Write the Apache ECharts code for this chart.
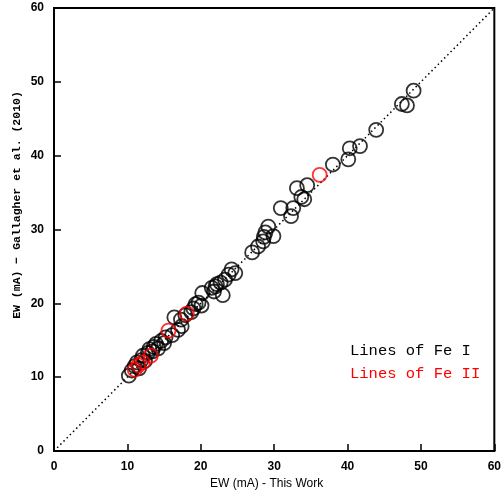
<!DOCTYPE html>
<html>
<head>
<meta charset="utf-8">
<script src="https://cdn.jsdelivr.net/npm/echarts@6/dist/echarts.min.js"></script>
<style>
  html, body { margin: 0; padding: 0; background: #fff; }
  #chart { width: 504px; height: 495px; }
</style>
</head>
<body>
<div id="chart"></div>
<script>
// Equivalent widths of Fe I lines: [this work, Gallagher et al. (2010)] in mA
const feI = [
  [10.2, 10.2], [10.6, 10.9], [11.0, 11.5], [11.3, 12.0], [11.6, 11.2], [11.9, 12.3],
  [12.1, 12.9], [12.4, 12.2], [12.8, 13.3], [13.0, 13.8], [13.4, 13.5], [13.6, 14.1],
  [13.9, 14.5], [14.2, 13.9], [14.6, 14.9], [15.0, 14.6], [15.2, 15.4], [16.1, 15.7],
  [16.4, 18.1], [16.9, 16.4], [17.4, 16.9], [17.3, 17.8], [17.9, 18.4], [18.7, 18.8],
  [19.0, 19.3], [19.3, 19.9], [19.7, 20.1], [20.2, 21.4], [20.1, 19.7], [21.5, 22.1],
  [21.8, 21.6], [22.0, 22.3], [22.2, 22.6], [22.7, 22.8], [23.0, 21.1], [23.3, 23.2],
  [23.8, 23.9], [24.2, 24.6], [24.7, 24.1], [27.0, 26.9], [27.8, 27.7], [28.5, 28.4],
  [28.6, 29.0], [28.8, 29.6], [29.2, 30.4], [29.9, 29.1], [30.9, 32.9], [32.3, 31.8],
  [32.6, 32.9], [33.1, 35.6], [33.7, 34.4], [34.1, 34.1], [34.5, 36.0], [38.0, 38.8],
  [40.1, 39.5], [40.3, 41.0], [41.7, 41.3], [43.9, 43.5], [47.4, 47.0], [48.1, 46.8],
  [49.0, 48.8]
];
// Equivalent widths of Fe II lines
const feII = [
  [11.0, 11.0], [11.5, 11.6], [12.1, 12.0], [13.2, 12.9], [15.6, 16.3], [18.1, 18.6],
  [36.2, 37.4]
];
// One-to-one reference line
const oneToOne = [[0, 0], [60, 60]];
const axisRange = [0, 60];
const tickStep = 10;

const chart = echarts.init(document.getElementById('chart'), null, { renderer: 'canvas' });

const tickLabelStyle = {
  color: '#000', fontFamily: 'Liberation Sans, Arial, sans-serif',
  fontWeight: 'bold', fontSize: 12
};

chart.setOption({
  animation: false,
  backgroundColor: '#fff',
  grid: {
    left: 54, right: 6, top: 8, bottom: 43,
    show: true, borderColor: '#000', borderWidth: 2, backgroundColor: 'transparent'
  },
  xAxis: {
    type: 'value', min: axisRange[0], max: axisRange[1], interval: tickStep,
    name: 'EW (mA) - This Work', nameLocation: 'middle', nameGap: 27,
    nameTextStyle: {
      color: '#000', fontFamily: 'Liberation Sans, Arial, sans-serif', fontSize: 12,
      padding: [0, 15, 0, 0]
    },
    axisLine: { show: true, lineStyle: { color: '#000', width: 2 } },
    axisTick: { show: true, inside: true, length: 7, lineStyle: { color: '#000', width: 1.5 } },
    axisLabel: Object.assign({ margin: 10 }, tickLabelStyle),
    splitLine: { show: false }
  },
  yAxis: {
    type: 'value', min: axisRange[0], max: axisRange[1], interval: tickStep,
    axisLine: { show: true, lineStyle: { color: '#000', width: 2 } },
    axisTick: { show: true, inside: true, length: 7, lineStyle: { color: '#000', width: 1.5 } },
    axisLabel: Object.assign({ margin: 10 }, tickLabelStyle),
    splitLine: { show: false }
  },
  graphic: [
    {
      // vertical axis title
      type: 'text', x: 17, y: 205, rotation: Math.PI / 2,
      style: {
        text: 'EW (mA) \u2212 Gallagher et al. (2010)', fill: '#000',
        font: 'bold 11.5px "Liberation Mono", monospace',
        textAlign: 'center', textVerticalAlign: 'middle'
      }
    },
    {
      type: 'text', left: 350, top: 343,
      style: { text: 'Lines of Fe I', fill: '#000', font: '15.5px "Liberation Mono", monospace' }
    },
    {
      type: 'text', left: 350, top: 366,
      style: { text: 'Lines of Fe II', fill: '#ff0000', font: '15.5px "Liberation Mono", monospace' }
    }
  ],
  series: [
    {
      type: 'line', data: oneToOne, symbol: 'none', silent: true,
      lineStyle: { color: '#000', width: 1.5, type: [1.5, 3] }, z: 1
    },
    {
      name: 'Fe I', type: 'scatter', data: feI, symbol: 'circle', symbolSize: 14,
      itemStyle: { color: 'transparent', borderColor: '#000', borderWidth: 1.8 }, z: 2
    },
    {
      name: 'Fe II', type: 'scatter', data: feII, symbol: 'circle', symbolSize: 14,
      itemStyle: { color: 'transparent', borderColor: '#ff0000', borderWidth: 1.8 }, z: 3
    }
  ]
});
</script>
</body>
</html>
